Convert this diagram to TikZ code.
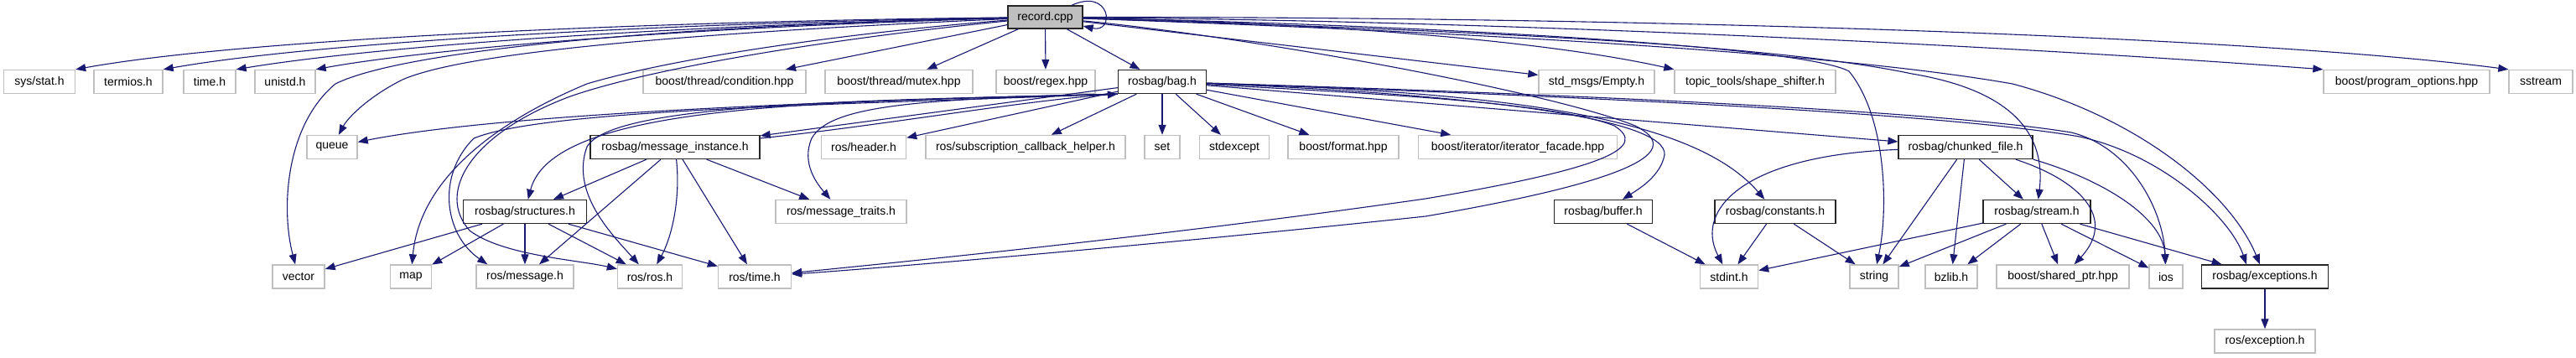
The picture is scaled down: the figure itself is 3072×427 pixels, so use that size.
\documentclass[tikz,border=0pt]{standalone}
\usepackage{fontspec}
\setmainfont{Liberation Sans}
\usetikzlibrary{arrows.meta}
\definecolor{boxgray}{HTML}{BFBFBF}
\definecolor{edgeblue}{HTML}{191970}
\tikzset{
  box/.style={draw=boxgray, line width=1.4pt, fill=white, minimum height=28pt, inner sep=0pt,
              font=\fontsize{14}{16}\selectfont, text=black},
  docbox/.style={box, draw=black!85, line width=1.3pt},
  recbox/.style={box, draw=black!85, fill=boxgray, line width=1.3pt, minimum height=27pt},
  edge/.style={draw=edgeblue, line width=1.1pt, -{Triangle[length=12pt,width=9pt]}},
}
\begin{document}
\begin{tikzpicture}[x=1pt,y=-1pt]
\useasboundingbox (0,0) rectangle (3072,427);

% row 1
\node[recbox, minimum width=89pt] (record) at (1246.5,20.5) {record.cpp};
% row 2
\node[box, minimum width=85pt]  (sysstat) at (47,97.5) {sys/stat.h};
\node[box, minimum width=82pt]  (termios) at (153,97.5) {termios.h};
\node[box, minimum width=62pt]  (timeh) at (250,97.5) {time.h};
\node[box, minimum width=72pt]  (unistd) at (340,97.5) {unistd.h};
\node[box, minimum width=194pt] (condition) at (864,97.5) {boost/thread/condition.hpp};
\node[box, minimum width=176pt] (mutex) at (1072,97.5) {boost/thread/mutex.hpp};
\node[box, minimum width=118pt] (regex) at (1247,97.5) {boost/regex.hpp};
\node[docbox, minimum width=105pt] (bag) at (1386,97.5) {rosbag/bag.h};
\node[box, minimum width=138pt] (empty) at (1904,97.5) {std\_msgs/Empty.h};
\node[box, minimum width=192pt] (shapeshifter) at (2093,97.5) {topic\_tools/shape\_shifter.h};
\node[box, minimum width=198pt] (progopts) at (2870,97.5) {boost/program\_options.hpp};
\node[box, minimum width=76pt]  (sstream) at (3030,97.5) {sstream};
% row 3
\node[box, minimum width=60pt]  (queue) at (396,175.5) {queue};
\node[docbox, minimum width=202pt] (msginst) at (805,175.5) {rosbag/message\_instance.h};
\node[box, minimum width=101pt] (rosheader) at (1030,175.5) {ros/header.h};
\node[box, minimum width=238pt] (subcb) at (1223,175.5) {ros/subscription\_callback\_helper.h};
\node[box, minimum width=42pt]  (set) at (1386,175.5) {set};
\node[box, minimum width=83pt]  (stdexcept) at (1472,175.5) {stdexcept};
\node[box, minimum width=132pt] (format) at (1602,175.5) {boost/format.hpp};
\node[box, minimum width=237pt] (iterfacade) at (1810,175.5) {boost/iterator/iterator\_facade.hpp};
\node[docbox, minimum width=160pt] (chunked) at (2344,175.5) {rosbag/chunked\_file.h};
% row 4
\node[docbox, minimum width=147pt] (structures) at (626,252.5) {rosbag/structures.h};
\node[box, minimum width=156pt] (msgtraits) at (1003,252.5) {ros/message\_traits.h};
\node[docbox, minimum width=117pt] (buffer) at (1912,252.5) {rosbag/buffer.h};
\node[docbox, minimum width=144pt] (constants) at (2117,252.5) {rosbag/constants.h};
\node[docbox, minimum width=128pt] (stream) at (2429,252.5) {rosbag/stream.h};
% row 5
\node[box, minimum width=62pt]  (vector) at (356,330) {vector};
\node[box, minimum width=49pt]  (map) at (490,330) {map};
\node[box, minimum width=116pt] (rosmessage) at (626,330) {ros/message.h};
\node[box, minimum width=77pt]  (rosros) at (775,330) {ros/ros.h};
\node[box, minimum width=87pt]  (rostime) at (900,330) {ros/time.h};
\node[box, minimum width=69pt]  (stdint) at (2062,330) {stdint.h};
\node[box, minimum width=58pt]  (string) at (2235,330) {string};
\node[box, minimum width=62pt]  (bzlib) at (2327,330) {bzlib.h};
\node[box, minimum width=158pt] (sharedptr) at (2460,330) {boost/shared\_ptr.hpp};
\node[box, minimum width=40pt]  (ios) at (2583,330) {ios};
\node[docbox, minimum width=151pt] (exceptions) at (2701,330) {rosbag/exceptions.h};
% row 6
\node[box, minimum width=120pt] (rosexception) at (2701,407) {ros/exception.h};

% ---- edges from record.cpp
\draw[edge] (record) .. controls (1325,-15) and (1330,40) .. (record);
\draw[edge] (record) .. controls (800,25) and (300,45) .. (sysstat.north east);
\draw[edge] (record) .. controls (800,27) and (380,50) .. (termios.north east);
\draw[edge] (record) .. controls (800,30) and (450,55) .. (timeh.north east);
\draw[edge] (record) .. controls (800,33) and (500,60) .. (unistd.north east);
\draw[edge] (record) .. controls (850,38) and (560,60) .. (480,95) .. controls (440,115) and (415,140) .. (queue);
\draw[edge] (record) .. controls (800,30) and (480,60) .. (400,100) .. controls (340,150) and (335,250) .. (vector);
\draw[edge] (record) .. controls (1000,40) and (800,70) .. (700,100) .. controls (580,150) and (500,220) .. (map);
\draw[edge] (record) .. controls (1000,45) and (780,80) .. (680,115) .. controls (560,160) and (520,230) .. (560,275) .. controls (600,305) and (690,310) .. (rosros);
\draw[edge] (record) -- (condition);
\draw[edge] (record) -- (mutex);
\draw[edge] (record) -- (regex);
\draw[edge] (record) -- (bag);
\draw[edge] (record) -- (empty);
\draw[edge] (record) .. controls (1600,28) and (1850,50) .. (shapeshifter.north west);
\draw[edge] (record) .. controls (1800,25) and (2400,55) .. (progopts.north west);
\draw[edge] (record) .. controls (2000,20) and (2700,45) .. (sstream.north west);
\draw[edge] (record) .. controls (1700,30) and (2150,55) .. (2205,85) .. controls (2250,140) and (2252,250) .. (string);
\draw[edge] (record) .. controls (1700,35) and (2100,50) .. (2280,88) .. controls (2400,108) and (2440,160) .. (stream);
\draw[edge] (record) .. controls (1800,40) and (2200,65) .. (2400,100) .. controls (2550,140) and (2660,230) .. (exceptions);
\draw[edge] (record) .. controls (1500,45) and (1850,110) .. (1950,150) .. controls (2010,180) and (1950,215) .. (1700,258) .. controls (1400,290) and (1050,320) .. (rostime);

% ---- edges from rosbag/bag.h
\draw[edge] (bag) -- (msginst);
\draw[edge] (msginst) .. controls (1050,150) and (1220,120) .. (bag.south west);
\draw[edge] (bag.south west) .. controls (1000,120) and (600,135) .. (queue);
\draw[edge] (bag.south west) .. controls (1000,122) and (660,120) .. (structures);
\draw[edge] (bag.south west) .. controls (1000,125) and (650,130) .. (565,165) .. controls (520,210) and (530,280) .. ([xshift=14pt]rosmessage.north west);
\draw[edge] (bag.south west) .. controls (1000,120) and (730,125) .. (700,175) .. controls (680,230) and (730,280) .. (rosros);
\draw[edge] (bag.south west) .. controls (1100,118) and (990,125) .. (968,165) .. controls (955,195) and (975,220) .. (msgtraits);
\draw[edge] (bag) -- (rosheader);
\draw[edge] (bag) -- (subcb);
\draw[edge] (bag) -- (set);
\draw[edge] (bag) -- (stdexcept);
\draw[edge] (bag) -- (format);
\draw[edge] (bag) -- (iterfacade);
\draw[edge] (bag) -- (chunked);
\draw[edge] (bag) .. controls (1750,112) and (1990,140) .. (1985,185) .. controls (1980,210) and (1955,225) .. (buffer);
\draw[edge] (bag) .. controls (1800,110) and (2020,140) .. (constants);
\draw[edge] (bag) .. controls (1600,110) and (1850,120) .. (1925,150) .. controls (1965,175) and (1920,200) .. (1700,237) .. controls (1400,280) and (1100,310) .. (rostime);
\draw[edge] (bag) .. controls (1800,110) and (2300,130) .. (2470,158) .. controls (2540,175) and (2580,250) .. (ios);
\draw[edge] (bag) .. controls (1800,112) and (2300,132) .. (2480,163) .. controls (2580,185) and (2660,260) .. ([xshift=-22pt]exceptions.north);

% ---- rosbag/message_instance.h
\draw[edge] (msginst) -- (structures);
\draw[edge] (msginst) -- (rosmessage);
\draw[edge] (msginst) .. controls (812,240) and (800,285) .. (rosros);
\draw[edge] (msginst) -- (rostime);
\draw[edge] (msginst) -- (msgtraits);

% ---- rosbag/structures.h
\draw[edge] (structures) -- (vector);
\draw[edge] (structures) -- (map);
\draw[edge] (structures) -- (rosmessage);
\draw[edge] (structures) -- (rosros);
\draw[edge] (structures) -- (rostime);

% ---- buffer, constants
\draw[edge] (buffer) -- (stdint);
\draw[edge] (constants) -- (stdint);
\draw[edge] (constants) -- (string);

% ---- chunked_file
\draw[edge] (chunked) .. controls (2080,185) and (2020,250) .. (stdint);
\draw[edge] (chunked) -- (string);
\draw[edge] (chunked) -- (bzlib);
\draw[edge] (chunked) -- (stream);
\draw[edge] ([xshift=-21pt]chunked.south east) .. controls (2480,215) and (2525,260) .. (sharedptr);
\draw[edge] (chunked.south east) .. controls (2510,215) and (2580,260) .. (ios);

% ---- stream
\draw[edge] (stream) -- (stdint);
\draw[edge] (stream) -- (string);
\draw[edge] (stream) -- (bzlib);
\draw[edge] (stream) -- (sharedptr);
\draw[edge] (stream) -- (ios);
\draw[edge] (stream) -- (exceptions);

% ---- exceptions
\draw[edge] (exceptions) -- (rosexception);
\end{tikzpicture}
\end{document}
